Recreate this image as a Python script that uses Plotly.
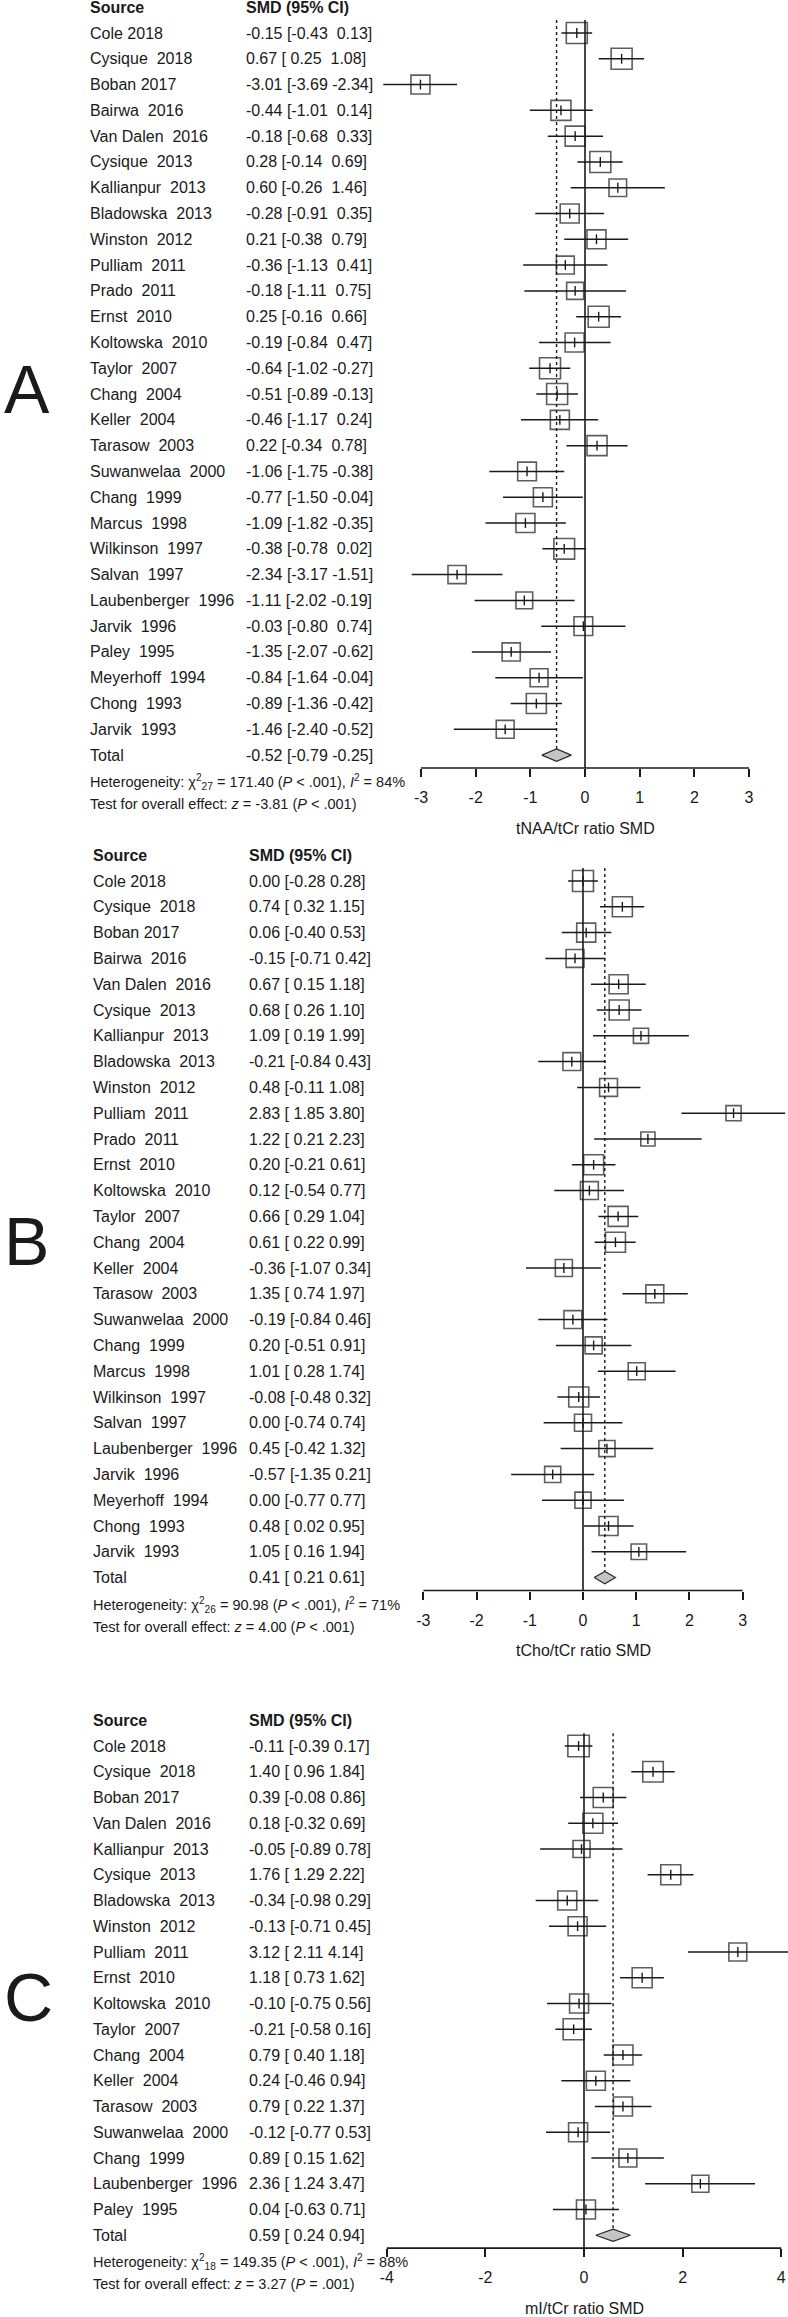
import plotly.graph_objects as go

W, H = 788, 2317
FONT = "Liberation Sans, Arial, Helvetica, sans-serif"
INK = "#1a1a1a"

# ---------------- Panel A : tNAA/tCr ----------------
names_A = ["Cole 2018", "Cysique  2018", "Boban 2017", "Bairwa  2016", "Van Dalen  2016",
           "Cysique  2013", "Kallianpur  2013", "Bladowska  2013", "Winston  2012",
           "Pulliam  2011", "Prado  2011", "Ernst  2010", "Koltowska  2010", "Taylor  2007",
           "Chang  2004", "Keller  2004", "Tarasow  2003", "Suwanwelaa  2000", "Chang  1999",
           "Marcus  1998", "Wilkinson  1997", "Salvan  1997", "Laubenberger  1996",
           "Jarvik  1996", "Paley  1995", "Meyerhoff  1994", "Chong  1993", "Jarvik  1993"]
smd_A = [-0.15, 0.67, -3.01, -0.44, -0.18, 0.28, 0.60, -0.28, 0.21, -0.36, -0.18, 0.25, -0.19,
         -0.64, -0.51, -0.46, 0.22, -1.06, -0.77, -1.09, -0.38, -2.34, -1.11, -0.03, -1.35,
         -0.84, -0.89, -1.46]
lo_A = [-0.43, 0.25, -3.69, -1.01, -0.68, -0.14, -0.26, -0.91, -0.38, -1.13, -1.11, -0.16, -0.84,
        -1.02, -0.89, -1.17, -0.34, -1.75, -1.50, -1.82, -0.78, -3.17, -2.02, -0.80, -2.07,
        -1.64, -1.36, -2.40]
hi_A = [0.13, 1.08, -2.34, 0.14, 0.33, 0.69, 1.46, 0.35, 0.79, 0.41, 0.75, 0.66, 0.47,
        -0.27, -0.13, 0.24, 0.78, -0.38, -0.04, -0.35, 0.02, -1.51, -0.19, 0.74, -0.62,
        -0.04, -0.42, -0.52]
weight_A = [4.4, 4.4, 3.6, 4.0, 4.0, 4.4, 3.1, 3.6, 3.6, 3.2, 2.9, 4.4, 3.6, 4.4, 4.4, 3.6,
            4.0, 3.5, 3.6, 3.6, 4.3, 3.3, 2.8, 3.5, 3.3, 3.2, 4.0, 3.2]
total_A = [-0.52, -0.79, -0.25]
het_A = {"df": "27", "chi2": "171.40", "p": "&lt; .001", "i2": "84"}
test_A = {"z": "-3.81", "p": "&lt; .001"}
ticks_A = [-3, -2, -1, 0, 1, 2, 3]
title_A = "tNAA/tCr ratio SMD"

# ---------------- Panel B : tCho/tCr ----------------
names_B = ["Cole 2018", "Cysique  2018", "Boban 2017", "Bairwa  2016", "Van Dalen  2016",
           "Cysique  2013", "Kallianpur  2013", "Bladowska  2013", "Winston  2012",
           "Pulliam  2011", "Prado  2011", "Ernst  2010", "Koltowska  2010", "Taylor  2007",
           "Chang  2004", "Keller  2004", "Tarasow  2003", "Suwanwelaa  2000", "Chang  1999",
           "Marcus  1998", "Wilkinson  1997", "Salvan  1997", "Laubenberger  1996",
           "Jarvik  1996", "Meyerhoff  1994", "Chong  1993", "Jarvik  1993"]
smd_B = [0.00, 0.74, 0.06, -0.15, 0.67, 0.68, 1.09, -0.21, 0.48, 2.83, 1.22, 0.20, 0.12, 0.66,
         0.61, -0.36, 1.35, -0.19, 0.20, 1.01, -0.08, 0.00, 0.45, -0.57, 0.00, 0.48, 1.05]
lo_B = [-0.28, 0.32, -0.40, -0.71, 0.15, 0.26, 0.19, -0.84, -0.11, 1.85, 0.21, -0.21, -0.54,
        0.29, 0.22, -1.07, 0.74, -0.84, -0.51, 0.28, -0.48, -0.74, -0.42, -1.35, -0.77, 0.02, 0.16]
hi_B = [0.28, 1.15, 0.53, 0.42, 1.18, 1.10, 1.99, 0.43, 1.08, 3.80, 2.23, 0.61, 0.77, 1.04,
        0.99, 0.34, 1.97, 0.46, 0.91, 1.74, 0.32, 0.74, 1.32, 0.21, 0.77, 0.95, 1.94]
weight_B = [4.4, 4.0, 3.6, 3.2, 3.6, 4.0, 2.3, 3.2, 3.2, 2.3, 2.0, 4.0, 3.2, 4.0, 4.0, 2.9,
            3.2, 3.2, 2.9, 2.9, 4.0, 2.9, 2.6, 2.6, 2.6, 3.6, 2.4]
total_B = [0.41, 0.21, 0.61]
het_B = {"df": "26", "chi2": "90.98", "p": "&lt; .001", "i2": "71"}
test_B = {"z": "4.00", "p": "&lt; .001"}
ticks_B = [-3, -2, -1, 0, 1, 2, 3]
title_B = "tCho/tCr ratio SMD"

# ---------------- Panel C : mI/tCr ----------------
names_C = ["Cole 2018", "Cysique  2018", "Boban 2017", "Van Dalen  2016", "Kallianpur  2013",
           "Cysique  2013", "Bladowska  2013", "Winston  2012", "Pulliam  2011", "Ernst  2010",
           "Koltowska  2010", "Taylor  2007", "Chang  2004", "Keller  2004", "Tarasow  2003",
           "Suwanwelaa  2000", "Chang  1999", "Laubenberger  1996", "Paley  1995"]
smd_C = [-0.11, 1.40, 0.39, 0.18, -0.05, 1.76, -0.34, -0.13, 3.12, 1.18, -0.10, -0.21, 0.79,
         0.24, 0.79, -0.12, 0.89, 2.36, 0.04]
lo_C = [-0.39, 0.96, -0.08, -0.32, -0.89, 1.29, -0.98, -0.71, 2.11, 0.73, -0.75, -0.58, 0.40,
        -0.46, 0.22, -0.77, 0.15, 1.24, -0.63]
hi_C = [0.17, 1.84, 0.86, 0.69, 0.78, 2.22, 0.29, 0.45, 4.14, 1.62, 0.56, 0.16, 1.18, 0.94,
        1.37, 0.53, 1.62, 3.47, 0.71]
weight_C = [4.6, 4.2, 4.0, 4.0, 2.9, 4.0, 3.6, 3.6, 3.2, 4.0, 3.6, 4.4, 4.0, 3.6, 3.6, 3.6,
            3.2, 2.9, 3.6]
total_C = [0.59, 0.24, 0.94]
het_C = {"df": "18", "chi2": "149.35", "p": "&lt; .001", "i2": "88"}
test_C = {"z": "3.27", "p": "= .001"}
ticks_C = [-4, -2, 0, 2, 4]
title_C = "mI/tCr ratio SMD"

letters = ["A", "B", "C"]

# ---------------- layout geometry (pixels) ----------------
geom = [
    dict(first=33, step=25.79, top=0, bot=845, zero=585, unit=54.67, c1=88, c2=244,
         letter_row=13.8, pad_hi=True),
    dict(first=881, step=25.8, top=845, bot=1690, zero=583, unit=53.2, c1=91, c2=247,
         letter_row=13.95, pad_hi=False),
    dict(first=1746, step=25.75, top=1690, bot=H, zero=584, unit=49.3, c1=91, c2=247,
         letter_row=9.75, pad_hi=False),
]

panels = [
    (names_A, smd_A, lo_A, hi_A, weight_A, total_A, het_A, test_A, ticks_A, title_A),
    (names_B, smd_B, lo_B, hi_B, weight_B, total_B, het_B, test_B, ticks_B, title_B),
    (names_C, smd_C, lo_C, hi_C, weight_C, total_C, het_C, test_C, ticks_C, title_C),
]

fig = go.Figure()
annotations = []
layout_axes = {}


def nb(s):
    return s.replace(" ", "\u00a0")


for k, (names, smd, lo, hi, wts, tot, het, tst, ticks, xtitle) in enumerate(panels):
    g = geom[k]
    xa = "x" if k == 0 else f"x{k + 1}"
    ya = "y" if k == 0 else f"y{k + 1}"
    xkey = "xaxis" if k == 0 else f"xaxis{k + 1}"
    ykey = "yaxis" if k == 0 else f"yaxis{k + 1}"
    n = len(names)
    trow = n                      # row index of the Total line
    arow = trow + 0.5             # x-axis baseline row

    r_top = (g["top"] - g["first"]) / g["step"]
    r_bot = (g["bot"] - g["first"]) / g["step"]
    layout_axes[ykey] = dict(domain=[1 - g["bot"] / H, 1 - g["top"] / H],
                             range=[r_bot, r_top], visible=False, fixedrange=True)
    axis_px = g["first"] + arow * g["step"]
    layout_axes[xkey] = dict(domain=[0, 1],
                             range=[-g["zero"] / g["unit"], (W - g["zero"]) / g["unit"]],
                             anchor="free", position=1 - axis_px / H,
                             showgrid=False, zeroline=False, showline=False,
                             ticks="outside", ticklen=8, tickwidth=1.5, tickcolor=INK,
                             tickvals=ticks, ticktext=[str(t) for t in ticks],
                             tickfont=dict(size=16, color=INK, family=FONT),
                             ticklabelstandoff=7, fixedrange=True)

    rows = list(range(n))

    # zero line and pooled-estimate dotted line
    fig.add_trace(go.Scatter(x=[0, 0], y=[-0.5, arow], mode="lines",
                             line=dict(color=INK, width=1.6), xaxis=xa, yaxis=ya,
                             hoverinfo="skip", showlegend=False))
    fig.add_trace(go.Scatter(x=[tot[0], tot[0]], y=[-0.5, trow - 0.24], mode="lines",
                             line=dict(color=INK, width=1.4, dash="dot"), xaxis=xa, yaxis=ya,
                             hoverinfo="skip", showlegend=False))
    # axis baseline between the outer ticks
    fig.add_trace(go.Scatter(x=[min(ticks), max(ticks)], y=[arow, arow], mode="lines",
                             line=dict(color=INK, width=1.6), xaxis=xa, yaxis=ya,
                             hoverinfo="skip", showlegend=False))

    # confidence intervals
    cx, cy = [], []
    for r, a, b in zip(rows, lo, hi):
        cx += [a, b, None]
        cy += [r, r, None]
    fig.add_trace(go.Scatter(x=cx, y=cy, mode="lines", line=dict(color=INK, width=1.5),
                             xaxis=xa, yaxis=ya, hoverinfo="skip", showlegend=False))
    # weight boxes
    fig.add_trace(go.Scatter(x=smd, y=rows, mode="markers",
                             marker=dict(symbol="square-open", size=[10 * w ** 0.5 for w in wts],
                                         color=INK, line=dict(width=1.6, color=INK)),
                             xaxis=xa, yaxis=ya, showlegend=False, cliponaxis=False))
    # point estimate ticks
    fig.add_trace(go.Scatter(x=smd, y=rows, mode="markers",
                             marker=dict(symbol="line-ns-open", size=7, color=INK,
                                         line=dict(width=1.4, color=INK)),
                             xaxis=xa, yaxis=ya, showlegend=False, cliponaxis=False))
    # pooled diamond
    dh = 0.24
    fig.add_trace(go.Scatter(x=[tot[1], tot[0], tot[2], tot[0], tot[1]],
                             y=[trow, trow - dh, trow, trow + dh, trow],
                             mode="lines", fill="toself", fillcolor="#c4c4c4",
                             line=dict(color="#2a2a2a", width=1.2),
                             xaxis=xa, yaxis=ya, hoverinfo="skip", showlegend=False))

    # ---- text columns
    def txt(x_px, row, text, size=16, xanchor="left"):
        annotations.append(dict(xref="paper", yref=ya, x=x_px / W, y=row, text=text,
                                showarrow=False, xanchor=xanchor, yanchor="middle",
                                font=dict(size=size, color=INK, family=FONT),
                                align="left"))

    txt(g["c1"], -1, "<b>Source</b>")
    txt(g["c2"], -1, "<b>SMD (95% CI)</b>")
    for r, nm, m, a, b in zip(rows, names, smd, lo, hi):
        txt(g["c1"], r, nb(nm))
        if g["pad_hi"]:
            s = f"{m:.2f} [{a:5.2f} {b:5.2f}]"
        else:
            s = f"{m:.2f} [{a:5.2f} {b:.2f}]"
        txt(g["c2"], r, nb(s))
    txt(g["c1"], trow, "Total")
    if g["pad_hi"]:
        s = f"{tot[0]:.2f} [{tot[1]:5.2f} {tot[2]:5.2f}]"
    else:
        s = f"{tot[0]:.2f} [{tot[1]:5.2f} {tot[2]:.2f}]"
    txt(g["c2"], trow, nb(s))
    het_text = (f"Heterogeneity: \u03c7<sup>2</sup><sub>{het['df']}</sub> = {het['chi2']} "
                f"(<i>P</i> {het['p']}), <i>I</i><sup>2</sup> = {het['i2']}%")
    txt(g["c1"], trow + 1.05, het_text, size=14.5)
    test_text = f"Test for overall effect: <i>z</i> = {tst['z']} (<i>P</i> {tst['p']})"
    txt(g["c1"], trow + 1.9, test_text, size=14.5)

    # axis title, centred on zero of this panel's axis
    annotations.append(dict(xref=xa, yref=ya, x=0, y=trow + 2.84, text=xtitle,
                            showarrow=False, xanchor="center", yanchor="middle",
                            font=dict(size=16, color=INK, family=FONT)))
    # panel letter
    annotations.append(dict(xref="paper", yref=ya, x=2 / W, y=g["letter_row"],
                            text=letters[k], showarrow=False, xanchor="left",
                            yanchor="middle", font=dict(size=68, color=INK, family=FONT)))

fig.update_layout(width=W, height=H, margin=dict(l=0, r=0, t=0, b=0),
                  paper_bgcolor="white", plot_bgcolor="white",
                  font=dict(family=FONT, color=INK), annotations=annotations,
                  showlegend=False, **layout_axes)

fig.write_html("out.html",
               config={"displayModeBar": False, "staticPlot": False},
               post_script="document.body.style.margin='0px';"
                           "document.body.style.padding='0px';"
                           "document.body.style.overflow='hidden';")
